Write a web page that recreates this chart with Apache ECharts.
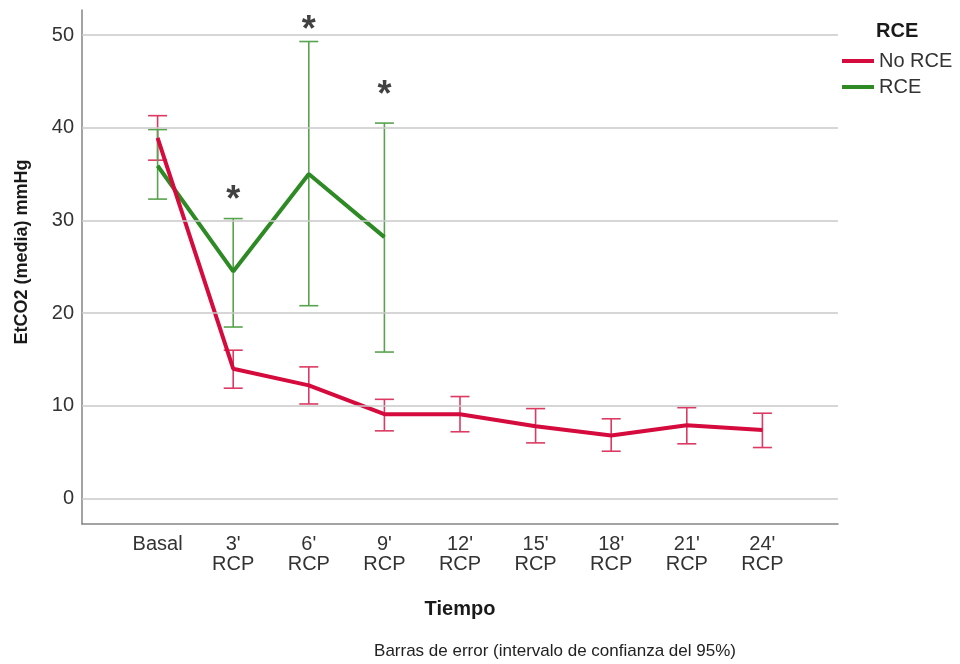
<!DOCTYPE html>
<html>
<head>
<meta charset="utf-8">
<script src="https://cdn.jsdelivr.net/npm/echarts@6/dist/echarts.min.js"></script>
<style>
  html, body { margin: 0; padding: 0; background: #ffffff; }
  #chart { width: 960px; height: 664px; }
</style>
</head>
<body>
<div id="chart"></div>
<script>
// Time points on the x axis
const timeLabels = ['Basal', "3'\nRCP", "6'\nRCP", "9'\nRCP", "12'\nRCP", "15'\nRCP", "18'\nRCP", "21'\nRCP", "24'\nRCP"];

// No RCE group: mean EtCO2 and 95% CI
const noRceMean = [38.9, 14.0, 12.2, 9.1, 9.1, 7.8, 6.8, 7.9, 7.4];
const noRceLow  = [36.5, 11.9, 10.2, 7.3, 7.2, 6.0, 5.1, 5.9, 5.5];
const noRceHigh = [41.3, 16.0, 14.2, 10.7, 11.0, 9.7, 8.6, 9.8, 9.2];

// RCE group: mean EtCO2 and 95% CI
const rceMean = [35.9, 24.5, 35.0, 28.2];
const rceLow  = [32.3, 18.5, 20.8, 15.8];
const rceHigh = [39.8, 30.2, 49.3, 40.5];

// Significance markers (y level of each asterisk)
const starLevels = [null, 33.0, 51.3, 44.3];

// Value axis ticks
const yTicks = [0, 10, 20, 30, 40, 50];

const FONT = "'Liberation Sans', Arial, sans-serif";
const RED = '#D50A3D';
const RED_BAR = '#DC3A62';
const GREEN = '#2E8A24';
const GREEN_BAR = '#58A34E';

function toPoints(arr) {
  return arr.map((v, i) => [i, v]);
}

function errorSeries(name, low, high, color) {
  return {
    type: 'custom',
    name: name,
    z: 2,
    silent: true,
    animation: false,
    data: low.map((l, i) => [i, l, high[i]]),
    encode: { x: 0, y: [1, 2] },
    renderItem: function (params, api) {
      const x = api.value(0);
      const lo = api.coord([x, api.value(1)]);
      const hi = api.coord([x, api.value(2)]);
      const w = 9.5;
      const style = { stroke: color, lineWidth: 1.6, fill: null };
      return {
        type: 'group',
        children: [
          { type: 'line', shape: { x1: lo[0], y1: lo[1], x2: hi[0], y2: hi[1] }, style: style },
          { type: 'line', shape: { x1: lo[0] - w, y1: lo[1], x2: lo[0] + w, y2: lo[1] }, style: style },
          { type: 'line', shape: { x1: hi[0] - w, y1: hi[1], x2: hi[0] + w, y2: hi[1] }, style: style }
        ]
      };
    }
  };
}

const chart = echarts.init(document.getElementById('chart'));

chart.setOption({
  animation: false,
  backgroundColor: '#ffffff',
  textStyle: { fontFamily: FONT },
  grid: { left: 82, right: 122, top: 10, bottom: 140 },
  legend: {
    orient: 'vertical',
    left: 842,
    top: 51,
    padding: 0,
    icon: 'rect',
    itemWidth: 32,
    itemHeight: 4,
    itemGap: 6,
    selectedMode: false,
    data: ['No RCE', 'RCE'],
    textStyle: { fontFamily: FONT, fontSize: 20, color: '#333333', lineHeight: 20 }
  },
  xAxis: {
    type: 'value',
    min: -1,
    max: 9,
    interval: 1,
    axisLine: { show: true, onZero: false, lineStyle: { color: '#858585', width: 1.5 } },
    axisTick: { show: false },
    splitLine: { show: false },
    axisLabel: {
      margin: 10,
      fontFamily: FONT,
      fontSize: 20,
      lineHeight: 20,
      color: '#333333',
      showMinLabel: true,
      showMaxLabel: true,
      formatter: function (v) {
        return (v >= 0 && v < timeLabels.length) ? timeLabels[v] : '';
      }
    }
  },
  yAxis: {
    type: 'value',
    min: -2.75,
    max: 52.7,
    axisLine: { show: true, onZero: false, lineStyle: { color: '#858585', width: 1.5 } },
    axisTick: { show: false },
    splitLine: { show: false },
    axisLabel: {
      margin: 8,
      fontFamily: FONT,
      fontSize: 20,
      color: '#333333',
      formatter: function (v) {
        return yTicks.indexOf(v) >= 0 ? String(v) : '';
      }
    }
  },
  graphic: [
    {
      type: 'text', x: 876, y: 31,
      style: { text: 'RCE', font: 'bold 20px ' + FONT, fill: '#1a1a1a', verticalAlign: 'middle' }
    },
    {
      type: 'text', x: 22, y: 252, rotation: Math.PI / 2,
      style: { text: 'EtCO2 (media) mmHg', font: 'bold 18px ' + FONT, fill: '#1a1a1a', align: 'center', verticalAlign: 'middle' }
    },
    {
      type: 'text', x: 460, y: 609,
      style: { text: 'Tiempo', font: 'bold 20px ' + FONT, fill: '#1a1a1a', align: 'center', verticalAlign: 'middle' }
    },
    {
      type: 'text', x: 555, y: 651,
      style: { text: 'Barras de error (intervalo de confianza del 95%)', font: '17px ' + FONT, fill: '#222222', align: 'center', verticalAlign: 'middle' }
    }
  ],
  series: [
    {
      // horizontal reference lines at each tick value
      type: 'line',
      name: 'grid',
      data: [],
      silent: true,
      z: 1,
      markLine: {
        silent: true,
        symbol: 'none',
        label: { show: false },
        lineStyle: { color: '#c8c8c8', width: 1.5, type: 'solid' },
        data: yTicks.map(v => ({ yAxis: v }))
      }
    },
    errorSeries('No RCE IC', noRceLow, noRceHigh, RED_BAR),
    errorSeries('RCE IC', rceLow, rceHigh, GREEN_BAR),
    {
      type: 'line',
      name: 'RCE',
      data: toPoints(rceMean),
      symbol: 'none',
      z: 3,
      color: GREEN,
      itemStyle: { color: GREEN },
      lineStyle: { color: GREEN, width: 4 }
    },
    {
      type: 'line',
      name: 'No RCE',
      data: toPoints(noRceMean),
      symbol: 'none',
      z: 4,
      color: RED,
      itemStyle: { color: RED },
      lineStyle: { color: RED, width: 4 }
    },
    {
      type: 'scatter',
      name: 'sig',
      silent: true,
      z: 5,
      symbolSize: 1,
      itemStyle: { color: 'rgba(0,0,0,0)' },
      data: starLevels.map((v, i) => [i, v]).filter(p => p[1] !== null),
      label: {
        show: true,
        position: 'inside',
        formatter: '*',
        fontFamily: FONT,
        fontSize: 36,
        fontWeight: 'bold',
        color: '#111111',
        offset: [0, 8]
      }
    }
  ]
});
</script>
</body>
</html>
